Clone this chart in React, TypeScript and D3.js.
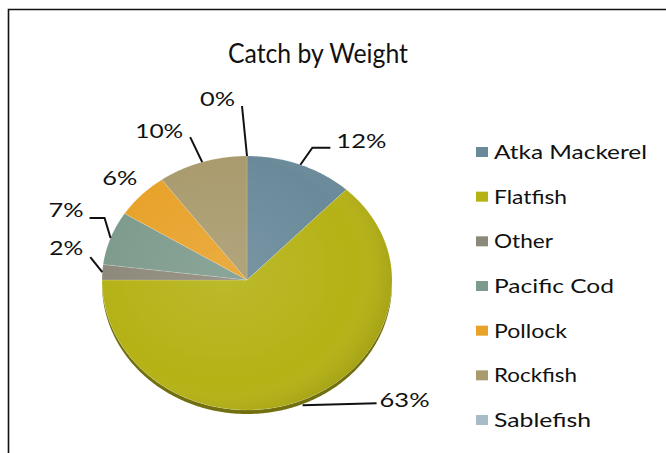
import React from "react";
import * as d3 from "d3";

const categories = ["Atka Mackerel", "Flatfish", "Other", "Pacific Cod", "Pollock", "Rockfish", "Sablefish"];
const values = [12, 63, 2, 7, 6, 10, 0];
const colors = ["#6a8a9a", "#b5b216", "#8d897a", "#7d9b8d", "#e8a22a", "#a99b6e", "#a7bcc6"];
const pctLabels = ["12%", "63%", "2%", "7%", "6%", "10%", "0%"];
const legendWidths = [153, 73, 59, 120, 73, 83, 97];

// label layout: offsets from slice edge anchor
const labelLayout = [
  { leader: [[0, 0], [12, -17], [30, -17]], text: [36, -17], anchor: "start", w: 50 },
  { leader: [[-2, 6], [72, 4]], text: [75, 8], anchor: "start", w: 50 },
  { leader: [[0, 0], [-12, -15]], text: [-19, -17], anchor: "end", w: 34 },
  { leader: [[0, 0], [-6, -20], [-21, -20]], text: [-27, -21], anchor: "end", w: 35 },
  { leader: [], text: [-4, -10], anchor: "end", w: 35 },
  { leader: [[0, 0], [-12, -25]], text: [-19, -24], anchor: "end", w: 48 },
  { leader: [[0, 0], [-5, -50]], text: [-12, -50], anchor: "end", w: 35 },
];

const W = 666, H = 453;
const cx = 247, cy = 280, rx = 145, ryT = 124, ryB = 130, depth = 4;
const FONT = "Lato, 'DejaVu Sans', sans-serif";

function ep(t: number, dy = 0): [number, number] {
  const c = Math.cos(t);
  return [cx + rx * Math.sin(t), cy - (c >= 0 ? ryT : ryB) * c + dy];
}
function arcPts(a0: number, a1: number, dy = 0) {
  const n = Math.max(2, Math.ceil((a1 - a0) / 0.01));
  const pts: [number, number][] = [];
  for (let i = 0; i <= n; i++) pts.push(ep(a0 + ((a1 - a0) * i) / n, dy));
  return pts;
}

export default function App() {
  const pie = d3.pie<number>().sort(null).value((d) => d).startAngle(0).endAngle(2 * Math.PI);
  const arcs = pie(values);
  const line = d3.line();

  const legendY = d3.scaleLinear().domain([0, categories.length - 1]).range([152, 420]);

  return (
    <svg width={W} height={H} style={{ position: "absolute", left: 0, top: 0, background: "#fff" }}>
      <defs>
        <radialGradient id="shade" cx="0.42" cy="0.45" r="0.6">
          <stop offset="0" stopColor="#fff" stopOpacity={0.1} />
          <stop offset="0.75" stopColor="#fff" stopOpacity={0} />
          <stop offset="1" stopColor="#000" stopOpacity={0.1} />
        </radialGradient>
      </defs>
      <path d={`M8.5,${H} V9.5 H${W}`} fill="none" stroke="#111" strokeWidth={1.6} />
      <text x={318} y={63} textAnchor="middle" fontFamily={FONT} fontSize={26} fill="#111"
        textLength={180} lengthAdjust="spacingAndGlyphs">Catch by Weight</text>

      {/* side */}
      {arcs.map((a, i) => {
        const s = Math.max(a.startAngle, Math.PI / 2);
        const e = Math.min(a.endAngle, (3 * Math.PI) / 2);
        if (e <= s) return null;
        const top = arcPts(s, e);
        const bot = arcPts(s, e, depth).reverse();
        return <path key={"s" + i} d={line([...top, ...bot])! + "Z"} fill={d3.color(colors[i])!.darker(1.3).toString()} />;
      })}
      {/* top faces */}
      {arcs.map((a, i) => {
        if (a.endAngle - a.startAngle <= 0) return null;
        const pts: [number, number][] = [[cx, cy], ...arcPts(a.startAngle, a.endAngle)];
        return <path key={"f" + i} d={line(pts)! + "Z"} fill={colors[i]} stroke="rgba(255,255,255,0.25)" strokeWidth={0.6} />;
      })}
      <path d={line(arcPts(0, 2 * Math.PI))! + "Z"} fill="url(#shade)" />

      {/* labels */}
      {arcs.map((a, i) => {
        const mid = (a.startAngle + a.endAngle) / 2;
        const [ax, ay] = ep(mid);
        const L = labelLayout[i];
        const pts = L.leader.map(([dx, dy]) => [ax + dx, ay + dy] as [number, number]);
        return (
          <g key={"l" + i}>
            {pts.length > 1 && <path d={line(pts)!} fill="none" stroke="#111" strokeWidth={2} />}
            <text x={ax + L.text[0]} y={ay + L.text[1]} textAnchor={L.anchor} fontFamily={FONT} fontSize={20} fill="#111"
              textLength={L.w} lengthAdjust="spacingAndGlyphs">{pctLabels[i]}</text>
          </g>
        );
      })}

      {/* legend */}
      {categories.map((c, i) => (
        <g key={"g" + i} transform={`translate(0,${legendY(i)})`}>
          <rect x={476} y={-5} width={12} height={10} fill={colors[i]} />
          <text x={494} y={7} fontFamily={FONT} fontSize={19} fill="#111" textLength={legendWidths[i]} lengthAdjust="spacingAndGlyphs">{c}</text>
        </g>
      ))}
    </svg>
  );
}
